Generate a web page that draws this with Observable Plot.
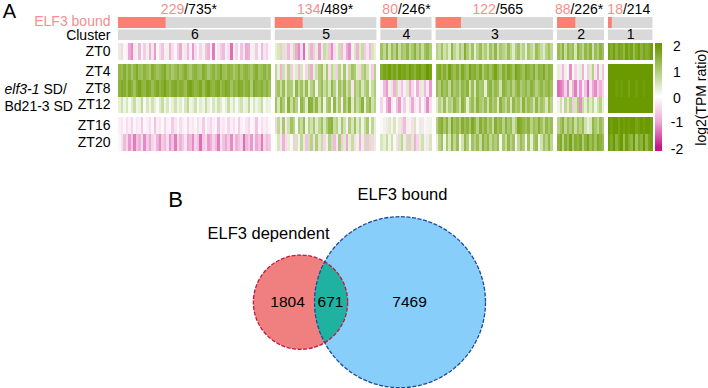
<!DOCTYPE html>
<html><head><meta charset="utf-8">
<script src="https://cdn.jsdelivr.net/npm/d3@7"></script>
<script src="https://cdn.jsdelivr.net/npm/@observablehq/plot@0.6"></script>
<style>html,body{margin:0;padding:0;background:#fff}svg{display:block}</style>
</head><body><div id="chart"></div>
<script>
const clusterNames=[6,5,4,3,2,1];
const geneCounts=[735,489,246,565,226,214];
const boundCounts=[229,134,80,122,88,18];
const starred=[true,true,true,false,true,false];
const ztRows=["ZT0","ZT4","ZT8","ZT12","ZT16","ZT20"];
const colorbarTicks=[2,1,0,-1,-2];
const vennLabels=["ELF3 dependent","ELF3 bound"];
const vennTotals=[2475,8140];
const vennCounts=[1804,671,7469];

// Heat stripes, log2(TPM ratio) in tenths
const c6_ZT0=[3,-5,1,-2,-10,-12,-3,2,-8,-1,-6,2,-9,-3,-11,1,-4,-7,-2,2,-9,-4,-1,-6,-10,2,-3,-8,-2,-11,-4,-1,-5,2,-7,-9,-2,-13,1,-3,-6,-8,-2,-4,-14,2,-5,-1,-7,-3,-10,-9,-2,2,-6,-1,-8,-3,-5,-1];
const c6_ZT4=[14,13,16,12,15,11,14,17,13,12,15,13,11,16,14,12,13,15,17,12,14,11,13,15,12,14,16,13,11,14,15,13,12,16,14,11,13,15,12,14,17,13,12,15,14,11,13,16,12,14,15,13,11,14,16,12,13,15,12,14];
const c6_ZT8=[15,17,16,13,17,15,12,16,18,15,14,17,16,13,15,17,14,16,18,15,13,16,17,14,16,15,13,17,18,16,14,15,17,13,16,18,15,14,16,17,13,15,17,16,12,15,14,17,16,13,15,16,10,17,15,14,16,13,15,12];
const c6_ZT12=[3,6,2,5,1,4,7,2,3,8,1,5,2,6,3,1,4,7,2,5,1,3,6,2,4,1,5,8,2,3,6,1,4,2,7,3,1,5,2,6,4,1,3,7,2,5,1,4,6,2,3,8,1,5,2,4,7,1,3,2];
const c6_ZT16=[-2,-3,-1,-4,-2,-5,-1,-3,-2,-6,-1,-2,-4,-1,-7,-2,-3,1,-5,-2,-1,-6,-3,-1,-4,-2,-1,-5,-2,-3,1,-4,-2,-6,-1,-3,-5,-2,-1,-7,-2,-3,-1,-5,-2,-4,-1,-6,-2,-1,-3,-5,-1,-2,-7,-1,-4,-2,-3,-1];
const c6_ZT20=[1,-4,-8,-5,-11,-6,-13,-7,-9,-4,-12,-6,-10,-5,-3,-9,-12,-6,-8,-4,-11,-7,-13,-5,-9,-6,-3,-10,-8,-12,-5,-7,-14,-6,-4,-11,-9,-5,-8,-13,-3,-7,-10,-6,-12,-4,-9,-7,-5,-14,-8,-6,-11,-3,-10,-7,-13,-5,-8,-6];
const c5_ZT0=[3,5,6,-5,4,-8,-3,6,-10,-12,-4,-14,-2,5,-9,-6,3,-11,-3,7,5,-7,-12,-4,2,6,-8,-3,-10,-12,-2,5,-9,4,7,-6,-3,-8,5,3];
const c5_ZT4=[8,3,-9,6,-3,9,-6,2,4,-8,5,1,-5,7,-10,3,6,10,12,4,11,-4,8,5,-6,9,3,11,-3,7,12,10,4,-5,8,11,6,2,-6,9];
const c5_ZT8=[9,12,7,13,5,11,10,3,14,8,12,6,13,4,9,12,2,10,13,7,11,5,14,9,3,12,8,13,6,10,-3,11,8,12,5,9,11,2,7,10];
const c5_ZT12=[12,5,14,10,3,15,7,13,9,1,14,11,4,16,15,9,14,6,13,2,10,12,1,14,5,11,-2,13,8,15,4,12,7,10,15,3,11,14,6,9];
const c5_ZT16=[-5,8,3,11,-3,6,12,9,1,10,7,13,2,9,6,11,4,8,12,5,10,14,15,7,9,3,11,6,-2,10,5,12,4,9,2,7,11,1,8,3];
const c5_ZT20=[1,5,-3,-9,-4,3,1,-6,5,-2,8,3,-7,6,9,-4,10,4,7,-5,2,9,6,-8,-3,10,-6,4,-10,3,7,-4,2,-9,-3,6,-7,5,-5,3];
const c4_ZT0=[12,8,14,6,13,9,15,7,12,10,14,8,11,15,9,13,7,12,14,10];
const c4_ZT4=[16,18,17,19,16,18,15,19,17,18,16,19,17,15,18,19,16,17,20,18];
const c4_ZT8=[-1,-8,-11,2,-4,-9,6,-3,-7,-2,4,-10,-5,-1,-9,-4,3,-8,-3,-11];
const c4_ZT12=[-5,-1,-9,-12,-3,1,-7,-11,-2,-6,1,-4,-10,-3,-2,-8,-1,-5,-12,-4];
const c4_ZT16=[-1,2,-3,4,-2,5,-1,3,-5,-8,2,-2,-4,5,-1,3,-3,1,-2,2];
const c4_ZT20=[5,3,7,2,6,1,-4,5,8,-3,6,-7,4,-9,-5,3,6,2,-3,5];
const c3_ZT0=[9,7,12,6,9,4,14,8,5,11,7,16,10,6,12,3,9,13,7,10,5,12,8,14,6,11,9,7,13,8,4,10,12,6,9,3,11,8,5,13,10,7,4,9,12,8];
const c3_ZT4=[15,17,13,16,12,18,15,13,16,11,17,14,12,18,15,16,13,17,10,14,16,12,15,18,14,11,16,13,17,15,12,18,16,14,12,17,15,13,16,11,15,14,17,12,15,14];
const c3_ZT8=[13,10,15,12,14,8,15,11,13,9,14,12,15,6,13,5,14,11,12,3,13,15,10,14,12,6,15,13,11,14,9,13,15,10,12,14,11,15,13,9,12,14,11,13,15,12];
const c3_ZT12=[4,9,6,13,5,10,8,14,11,6,15,12,3,10,13,7,15,11,9,13,6,14,10,12,4,15,11,8,13,5,14,10,12,7,15,9,13,11,6,14,8,12,10,5,13,9];
const c3_ZT16=[9,14,16,11,15,8,17,12,14,10,16,13,15,11,17,14,9,16,12,15,10,13,7,16,12,14,9,15,11,13,6,10,17,16,14,12,15,9,13,11,16,12,8,14,11,13];
const c3_ZT20=[3,9,12,2,11,5,14,8,13,1,6,14,10,2,12,9,13,7,15,11,14,8,12,10,13,1,11,7,14,9,12,-2,8,13,10,1,12,3,11,13,2,6,12,9,14,8];
const c2_ZT0=[13,10,15,7,14,11,13,5,15,12,8,14,11,15,6,13,10,15,12];
const c2_ZT4=[3,-3,-8,2,-1,-12,1,-5,-2,3,-9,-1,-6,4,9,-3,-10,2,-7];
const c2_ZT8=[-14,-13,-11,-5,-12,2,-9,-13,-4,-11,-2,-7,-14,-3,-10,-12,-6,-9,-5];
const c2_ZT12=[2,6,-2,8,4,9,-6,5,10,-12,7,3,9,4,8,2,6,9,3];
const c2_ZT16=[9,12,15,8,13,10,14,7,12,9,13,6,3,5,14,11,8,13,10];
const c2_ZT20=[15,17,9,16,13,18,11,16,14,17,10,15,18,13,16,12,17,15,13];
const c1_ZT0=[18,16,19,15,18,17,14,19,16,18,13,17,19,15,18,16,17,19];
const c1_ZT4=[20,20,20,20,20,20,20,20,20,20,20,20,20,20,20,20,20,20];
const c1_ZT8=[20,20,20,19,20,19,20,20,18,20,20,19,20,20,19,20,20,20];
const c1_ZT12=[20,20,20,20,20,20,20,20,20,20,20,20,20,20,20,20,20,20];
const c1_ZT16=[20,19,20,20,18,20,19,20,19,20,20,18,19,20,19,20,20,19];
const c1_ZT20=[19,17,20,15,18,20,13,19,16,14,20,12,17,15,20,14,18,19];

const stripeSets=[
 [c6_ZT0,c6_ZT4,c6_ZT8,c6_ZT12,c6_ZT16,c6_ZT20],
 [c5_ZT0,c5_ZT4,c5_ZT8,c5_ZT12,c5_ZT16,c5_ZT20],
 [c4_ZT0,c4_ZT4,c4_ZT8,c4_ZT12,c4_ZT16,c4_ZT20],
 [c3_ZT0,c3_ZT4,c3_ZT8,c3_ZT12,c3_ZT16,c3_ZT20],
 [c2_ZT0,c2_ZT4,c2_ZT8,c2_ZT12,c2_ZT16,c2_ZT20],
 [c1_ZT0,c1_ZT4,c1_ZT8,c1_ZT12,c1_ZT16,c1_ZT20]];

// Layout
const font="'Liberation Sans',Arial,sans-serif";
const rowTop=[43,64,80.3,96.7,117,134], rowBottom=[60,80.3,96.7,113,134,151];
const gapGenes=19.3;
let cursor=0;
const clusters=clusterNames.map((name,i)=>{const c={name,n:geneCounts[i],bound:boundCounts[i],star:starred[i],start:cursor,end:cursor+geneCounts[i]};cursor=c.end+gapGenes;return c;});
const total=clusters[clusters.length-1].end;
const genePx=534.5/total;
const labelShift=[-6,-1,0,3,-2,-2];

const stripes=[];
clusters.forEach((c,ci)=>stripeSets[ci].forEach((vals,ri)=>vals.forEach((v,k)=>{
  const w=c.n/vals.length;
  stripes.push({x1:c.start+k*w,x2:c.start+(k+1)*w,y1:rowTop[ri],y2:rowBottom[ri],v:v/10});
})));

const digitPx=14*0.556;
const topLabels=clusters.map((c,i)=>{
  const red=String(c.bound).length*digitPx;
  const rest=digitPx*3+14*0.278+(c.star?14*0.389:0);
  const split=(c.start+c.end)/2+(labelShift[i]+(red-(red+rest)/2))/genePx;
  return {split,red:String(c.bound),rest:"/"+c.n+(c.star?"*":"")};
});
const barY=v=>97-v*25.4;
const barCells=d3.range(-54,54).map(i=>({v:i/25.4,y1:97-(i+1),y2:97-i}));

const salmon="#F98072", salmonText="#F58E8E", grey="#D9D9D9";
const topPlot=Plot.plot({
  width:708,height:170,margin:0,style:{fontFamily:font,background:"#fff"},
  x:{domain:[0,total],range:[118,652.5],axis:null},
  y:{domain:[0,170],range:[0,170],axis:null},
  color:{type:"linear",domain:[-2,-1,0,1,2],range:["#C5168A","#ECA9D3","#ffffff","#B0CC78","#6B9A00"],interpolate:"rgb",clamp:true},
  marks:[
    Plot.rect(clusters,{x1:"start",x2:"end",y1:17,y2:28,fill:grey}),
    Plot.rect(clusters,{x1:"start",x2:c=>c.start+c.bound,y1:17,y2:28,fill:salmon}),
    Plot.rect(clusters,{x1:"start",x2:"end",y1:29.5,y2:40,fill:grey}),
    Plot.rect(stripes,{x1:"x1",x2:"x2",y1:"y1",y2:"y2",fill:"v",shapeRendering:"crispEdges"}),
    Plot.rect(barCells,{x1:total+2.4/genePx,x2:total+9.7/genePx,y1:"y1",y2:"y2",fill:"v",shapeRendering:"crispEdges"}),
    Plot.text(clusters,{x:c=>(c.start+c.end)/2,y:34.5,text:c=>String(c.name),fontSize:14,fill:"#000"}),
    Plot.text(topLabels,{x:"split",y:9,text:"red",textAnchor:"end",fontSize:14,fill:salmonText}),
    Plot.text(topLabels,{x:"split",y:9,text:"rest",textAnchor:"start",fontSize:14,fill:"#000"}),
    Plot.text(["ELF3 bound"],{x:0,y:21.5,dx:-8,textAnchor:"end",fontSize:14,fill:salmonText}),
    Plot.text(["Cluster"],{x:0,y:35,dx:-8,textAnchor:"end",fontSize:14,fill:"#000"}),
    Plot.text(ztRows,{x:0,y:(d,i)=>(rowTop[i]+rowBottom[i])/2+[0,-1,0,-1,0,0][i],dx:-8,textAnchor:"end",fontSize:14,fill:"#000"}),
    Plot.text(["elf3-1"],{x:0,y:89,dx:-114,textAnchor:"start",fontSize:14,fontStyle:"italic",fill:"#000"}),
    Plot.text(["SD/"],{x:0,y:89,dx:-75,textAnchor:"start",fontSize:14,fill:"#000"}),
    Plot.text(["Bd21-3 SD"],{x:0,y:106,dx:-114,textAnchor:"start",fontSize:14,fill:"#000"}),
    Plot.text(colorbarTicks,{x:total,y:v=>barY(v)+[0,0,1,0,1][colorbarTicks.indexOf(v)],dx:24,text:d=>String(d),fontSize:14,fill:"#000"}),
    Plot.text(["log2(TPM ratio)"],{x:total,y:97,dx:49,rotate:-90,fontSize:14,fill:"#000"}),
    Plot.text(["A"],{x:0,y:11.5,dx:-109,fontSize:20,fill:"#000"})
  ]
});

const cxLeft=300, cxRight=399.5, cy=301.7;
const venn=[{n:vennTotals[0],x:cxLeft},{n:vennTotals[1],x:cxRight}];
const bottomPlot=Plot.plot({
  width:708,height:218,margin:0,style:{fontFamily:font,background:"transparent"},
  x:{domain:[0,708],range:[0,708],axis:null},
  y:{domain:[170,388],range:[0,218],axis:null},
  r:{type:"sqrt",domain:[0,vennTotals[1]],range:[0,85.5]},
  marks:[
    Plot.dot(venn.slice(0,1),{x:"x",y:cy,r:"n",fill:"#F08080",stroke:"none"}),
    Plot.dot(venn.slice(1),{x:"x",y:cy,r:"n",fill:"#87CEFA",stroke:"none"}),
    Plot.dot(venn.slice(0,1),{x:"x",y:cy,r:"n",fill:"#20B2A0",stroke:"none"}),
    Plot.dot(venn.slice(0,1),{x:"x",y:cy,r:"n",fill:"none",stroke:"#C4163F",strokeWidth:1.3,strokeDasharray:"4,1.6"}),
    Plot.dot(venn.slice(1),{x:"x",y:cy,r:"n",fill:"none",stroke:"#1B4A9C",strokeWidth:1.3,strokeDasharray:"4,1.6"}),
    Plot.text(vennCounts,{x:(d,i)=>[287,330,409][i],y:cy,text:d=>String(d),fontSize:15.5,fill:"#000"}),
    Plot.text(vennLabels,{x:(d,i)=>[268,402][i],y:(d,i)=>[233.5,194][i],fontSize:16.5,fill:"#000"}),
    Plot.text(["B"],{x:175,y:199.5,fontSize:22,fill:"#000"})
  ]
});
// Clip the third dot (the overlap) to the large circle.
const circles=bottomPlot.querySelectorAll("circle");
const clip=document.createElementNS("http://www.w3.org/2000/svg","clipPath");
clip.setAttribute("id","lens");
clip.appendChild(circles[1].cloneNode(false));
bottomPlot.appendChild(clip);
circles[2].parentNode.setAttribute("clip-path","url(#lens)");

const host=document.getElementById("chart");
host.appendChild(topPlot);host.appendChild(bottomPlot);
</script></body></html>
